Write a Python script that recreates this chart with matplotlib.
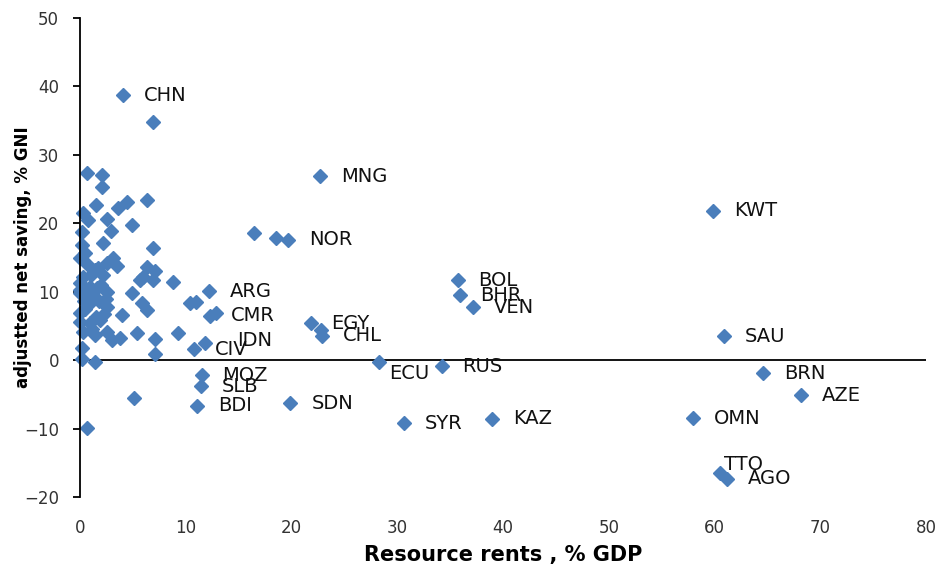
import numpy as np
import matplotlib
matplotlib.use("Agg")
import matplotlib.pyplot as plt

# labelled countries: resource rents (% GDP), adjusted net saving (% GNI)
countries = ["CHN", "MNG", "KWT", "NOR", "ARG", "CMR", "IDN", "CIV", "EGY", "CHL",
             "ECU", "RUS", "BOL", "BHR", "VEN", "SAU", "BRN", "AZE", "OMN", "TTO",
             "AGO", "KAZ", "SYR", "SDN", "MOZ", "SLB", "BDI"]
rents = [4.1, 22.7, 59.9, 19.7, 12.2, 12.3, 11.8, 10.8, 21.8, 22.9,
         28.3, 34.2, 35.7, 35.9, 37.2, 60.9, 64.6, 68.2, 58.0, 60.5,
         61.2, 39.0, 30.6, 19.9, 11.5, 11.4, 11.1]
saving = [38.7, 26.9, 21.8, 17.6, 10.1, 6.5, 2.5, 1.6, 5.4, 3.6,
          -0.3, -0.9, 11.7, 9.5, 7.7, 3.5, -1.9, -5.1, -8.5, -16.5,
          -17.3, -8.6, -9.2, -6.3, -2.2, -3.8, -6.7]

# unlabelled countries
other_rents = [6.9, 0.7, 2.1, 2.1, 1.5, 3.6, 4.4, 6.3, 0.3, 0.8,
               2.6, 4.9, 0.2, 2.9, 2.2, 0.2, 6.9, 0.5, 0.0, 3.1,
               2.6, 0.8, 1.4, 6.3, 7.1, 0.3, 2.2, 6.0, 5.7, 6.9,
               8.8, 0.0, 0.9, 2.6, 4.9, 0.0, 0.0, 0.9, 2.6, 5.9,
               6.3, 4.0, 10.4, 0.0, 0.0, 0.9, 0.3, 1.4, 2.6, 3.0,
               3.8, 5.4, 7.1, 9.3, 0.2, 7.1, 0.2, 1.4, 5.1, 0.7,
               16.5, 18.5, 22.8, 12.9, 11.0, 1.2, 1.8, 0.5, 1.5, 2.0,
               1.0, 1.7, 0.6, 2.3, 1.1, 3.5, 2.5, 1.6, 0.4, 1.9]
other_saving = [34.8, 27.3, 27.0, 25.3, 22.7, 22.2, 23.1, 23.4, 21.5, 20.5,
                20.6, 19.7, 18.7, 18.9, 17.1, 16.8, 16.4, 15.6, 14.9, 14.9,
                14.2, 13.9, 13.2, 13.6, 13.0, 12.1, 12.4, 12.1, 11.7, 11.7,
                11.4, 11.3, 10.7, 9.9, 9.8, 10.2, 9.8, 8.3, 7.7, 8.3,
                7.3, 6.6, 8.3, 6.9, 5.6, 5.4, 4.1, 3.7, 4.1, 2.9,
                3.2, 3.9, 3.1, 3.9, 1.8, 0.9, 0.1, -0.3, -5.6, -9.9,
                18.6, 17.9, 4.4, 6.9, 8.5, 9.0, 8.7, 7.5, 6.3, 11.0,
                12.5, 13.5, 10.0, 6.8, 4.5, 13.8, 8.9, 10.5, 8.7, 5.8]

x_ticks = [0, 10, 20, 30, 40, 50, 60, 70, 80]
y_ticks = [-20, -10, 0, 10, 20, 30, 40, 50]

# labels that Excel did not put in the default spot (offset in points)
label_offsets = {"TTO": (3, 6), "ECU": (7, -8), "IDN": (23, 2)}

blue = "#4A7EBB"

fig = plt.figure(figsize=(9.37, 5.66), dpi=100)
ax = fig.add_axes([80 / 937, 69 / 566, 846 / 937, 479 / 566])

ax.plot(other_rents, other_saving, "D", color=blue, ms=7, mec=blue, clip_on=False)
ax.plot(rents, saving, "D", color=blue, ms=7, mec=blue, clip_on=False)

for name, x, y in zip(countries, rents, saving):
    off = label_offsets.get(name, (15, 0))
    ax.annotate(name, (x, y), xytext=off, textcoords="offset points",
                ha="left", va="center", fontsize=14, color="#111111",
                family="DejaVu Sans")

ax.set_xlim(0, 80)
ax.set_ylim(-20, 50)
ax.set_xticks(x_ticks)
ax.set_yticks(y_ticks)

ax.spines["top"].set_visible(False)
ax.spines["right"].set_visible(False)
ax.spines["bottom"].set_visible(False)
ax.spines["left"].set_linewidth(1.3)
ax.axhline(0, color="black", lw=1.3, zorder=1)

ax.tick_params(axis="y", direction="out", length=5, width=1.3, pad=10,
               labelsize=12, labelcolor="#333333")
ax.tick_params(axis="x", length=0, pad=16, labelsize=12, labelcolor="#333333")

ax.set_xlabel("Resource rents , % GDP", fontsize=15, fontweight="bold")
ax.set_ylabel("adjustted net saving, % GNI", fontsize=13.3, fontweight="bold",
              fontstretch="condensed")
ax.xaxis.set_label_coords(0.5, -0.1)
ax.yaxis.set_label_coords(-0.057, 0.5)

fig.savefig("out.png", dpi=100)
